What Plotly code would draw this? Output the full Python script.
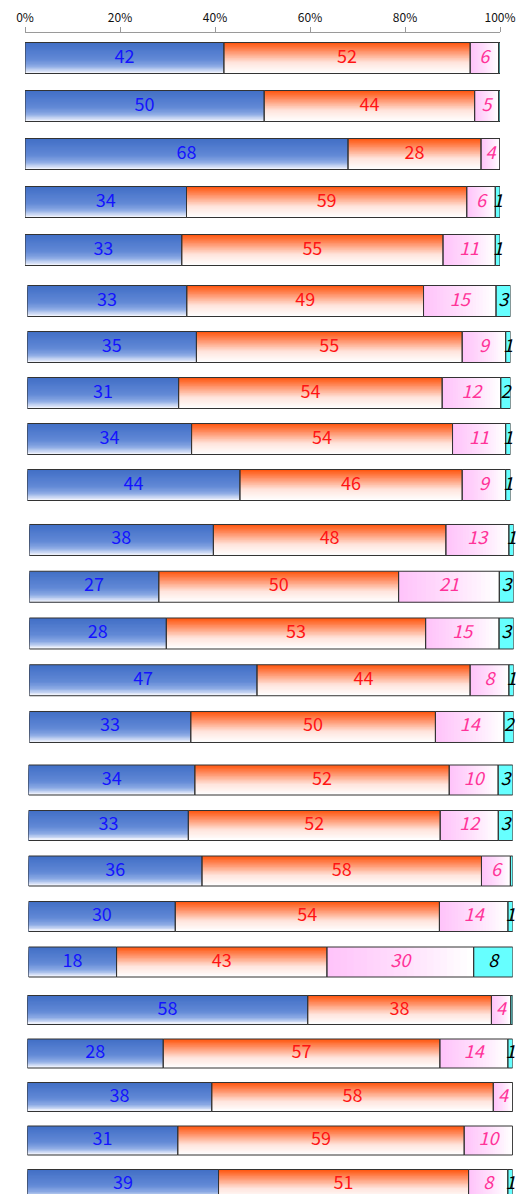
import plotly.graph_objects as go

# ---------------- data ----------------
rows = [f"Q{i+1}" for i in range(25)]
blue = [42, 50, 68, 34, 33, 33, 35, 31, 34, 44, 38, 27, 28, 47, 33, 34, 33, 36, 30, 18, 58, 28, 38, 31, 39]
orange = [52, 44, 28, 59, 55, 49, 55, 54, 54, 46, 48, 50, 53, 44, 50, 52, 52, 58, 54, 43, 38, 57, 58, 59, 51]
pink = [6, 5, 4, 6, 11, 15, 9, 12, 11, 9, 13, 21, 15, 8, 14, 10, 12, 6, 14, 30, 4, 14, 4, 10, 8]
cyan = [0.3, 0.3, 0, 1, 1, 3, 1, 2, 1, 1, 1, 3, 3, 1, 2, 3, 3, 0.5, 1, 8, 0.4, 1, 0, 0, 1]
tick_vals = [0, 20, 40, 60, 80, 100]
tick_text = ["0%", "20%", "40%", "60%", "80%", "100%"]

# ---------------- layout parameters (screen px) ----------------
W, H = 532, 1194
OFF = 8  # page body margin
group_x_px = [(25, 500), (27.3, 510.5), (29.3, 513.7), (28.5, 512.8), (27.3, 512.7)]
group_first_center = [58, 301, 540, 780, 1010]
group_spacing = [48, 46, 46.75, 45.5, 43.5]
bar_px = [31, 31, 31, 30, 29]
AXIS_LINE_Y = 32
FONT = "Noto Sans CJK JP"

blue_stops = [(0.0, (66, 112, 198)), (0.55, (98, 137, 214)), (0.78, (140, 170, 228)), (1.0, (238, 242, 252))]
orange_stops = [(0.0, (255, 88, 18)), (0.3, (255, 150, 110)), (0.65, (255, 228, 220)), (1.0, (255, 254, 254))]
pink_stops = [(0.0, (255, 196, 250)), (0.5, (255, 222, 252)), (1.0, (255, 255, 255))]
CYAN = "#66FFFF"
EDGE = "#333333"


def interp(stops, t):
    for (t0, c0), (t1, c1) in zip(stops[:-1], stops[1:]):
        if t <= t1:
            f = 0 if t1 == t0 else (t - t0) / (t1 - t0)
            c = [round(a + (b - a) * f) for a, b in zip(c0, c1)]
            return f"rgb({c[0]},{c[1]},{c[2]})"
    c = stops[-1][1]
    return f"rgb({c[0]},{c[1]},{c[2]})"


fig = go.Figure()
NV = 22
NH = 22

for g in range(5):
    idx = list(range(5 * g, 5 * g + 5))
    cats = [rows[i] for i in idx]
    xa = "x" if g == 0 else f"x{g+1}"
    ya = "y" if g == 0 else f"y{g+1}"
    tot = [blue[i] + orange[i] + pink[i] + cyan[i] for i in idx]
    bp = [blue[i] / t * 100 for i, t in zip(idx, tot)]
    op = [orange[i] / t * 100 for i, t in zip(idx, tot)]
    pp = [pink[i] / t * 100 for i, t in zip(idx, tot)]
    cp = [cyan[i] / t * 100 for i, t in zip(idx, tot)]
    ob = bp
    pb = [a + b for a, b in zip(bp, op)]
    cb = [a + b for a, b in zip(pb, pp)]
    w = bar_px[g] / group_spacing[g]
    common = dict(orientation="h", xaxis=xa, yaxis=ya, showlegend=False, hoverinfo="skip")

    # vertical gradients (blue and orange)
    for k in range(NV):
        t = k / (NV - 1)
        off = -w / 2 + k * w / NV
        fig.add_trace(go.Bar(
            y=cats + cats, x=bp + op, base=[0] * 5 + ob,
            offset=off, width=w / 2 - off,
            marker=dict(color=[interp(blue_stops, t)] * 5 + [interp(orange_stops, t)] * 5, line=dict(width=0)),
            **common))
    # horizontal gradient (pink)
    for k in range(NH):
        t = k / (NH - 1)
        fig.add_trace(go.Bar(
            y=cats, x=[p * (1 - k / NH) for p in pp], base=[b + p * k / NH for b, p in zip(pb, pp)],
            offset=-w / 2, width=w,
            marker=dict(color=interp(pink_stops, t), line=dict(width=0)),
            **common))
    # cyan
    fig.add_trace(go.Bar(y=cats, x=cp, base=cb, offset=-w / 2, width=w,
                         marker=dict(color=CYAN, line=dict(width=0)), **common))
    # outlines
    fig.add_trace(go.Bar(
        y=cats * 4, x=bp + op + pp + cp, base=[0] * 5 + ob + pb + cb,
        offset=-w / 2, width=w,
        marker=dict(color="rgba(0,0,0,0)", line=dict(color=EDGE, width=1)),
        **common))

    # labels
    def txt(xs, labels, color, style):
        fig.add_trace(go.Scatter(
            x=xs, y=cats, mode="text", text=labels, cliponaxis=False,
            textposition="middle center",
            textfont=dict(family=FONT, size=18, color=color, style=style),
            xaxis=xa, yaxis=ya, showlegend=False, hoverinfo="skip"))

    txt([b / 2 for b in bp], [str(blue[i]) for i in idx], "#1414FF", "normal")
    txt([b + o / 2 for b, o in zip(ob, op)], [str(orange[i]) for i in idx], "#FF1414", "normal")
    txt([b + p / 2 for b, p in zip(pb, pp)], [str(pink[i]) for i in idx], "#FF3399", "italic")
    txt([b + c / 2 for b, c in zip(cb, cp)], [str(int(cyan[i])) if cyan[i] >= 1 else "" for i in idx], "#000000", "italic")

    # axes (convert screen px -> figure px by removing page margin)
    x0, x1 = group_x_px[g][0] - OFF, group_x_px[g][1] - OFF
    c0 = group_first_center[g] - OFF
    top = c0 - group_spacing[g] / 2
    bottom = min(H - OFF, c0 + 4.5 * group_spacing[g])
    rng_end = (bottom - c0) / group_spacing[g]
    xkey = "xaxis" if g == 0 else f"xaxis{g+1}"
    ykey = "yaxis" if g == 0 else f"yaxis{g+1}"
    xdef = dict(domain=[x0 / W, x1 / W], range=[0, 100], anchor=ya, showgrid=False, zeroline=False,
                fixedrange=True, automargin=False)
    if g == 0:
        xdef.update(side="top", anchor="free", position=1 - (AXIS_LINE_Y - OFF) / H, tickvals=tick_vals,
                    ticktext=tick_text, ticks="outside", ticklen=5, tickcolor="#9a9a9a", showline=True,
                    linecolor="#9a9a9a", linewidth=1, tickfont=dict(family=FONT, size=12, color="#111111"))
    else:
        xdef.update(visible=False)
    fig.layout[xkey] = xdef
    fig.layout[ykey] = dict(domain=[1 - bottom / H, 1 - top / H], type="category",
                            categoryorder="array", categoryarray=cats, automargin=False,
                            range=[rng_end, -0.5], visible=False, anchor=xa, fixedrange=True)

fig.update_layout(width=W, height=H, margin=dict(l=0, r=0, t=0, b=0), barmode="overlay",
                  paper_bgcolor="white", plot_bgcolor="white", showlegend=False)
fig.write_html("out.html")
